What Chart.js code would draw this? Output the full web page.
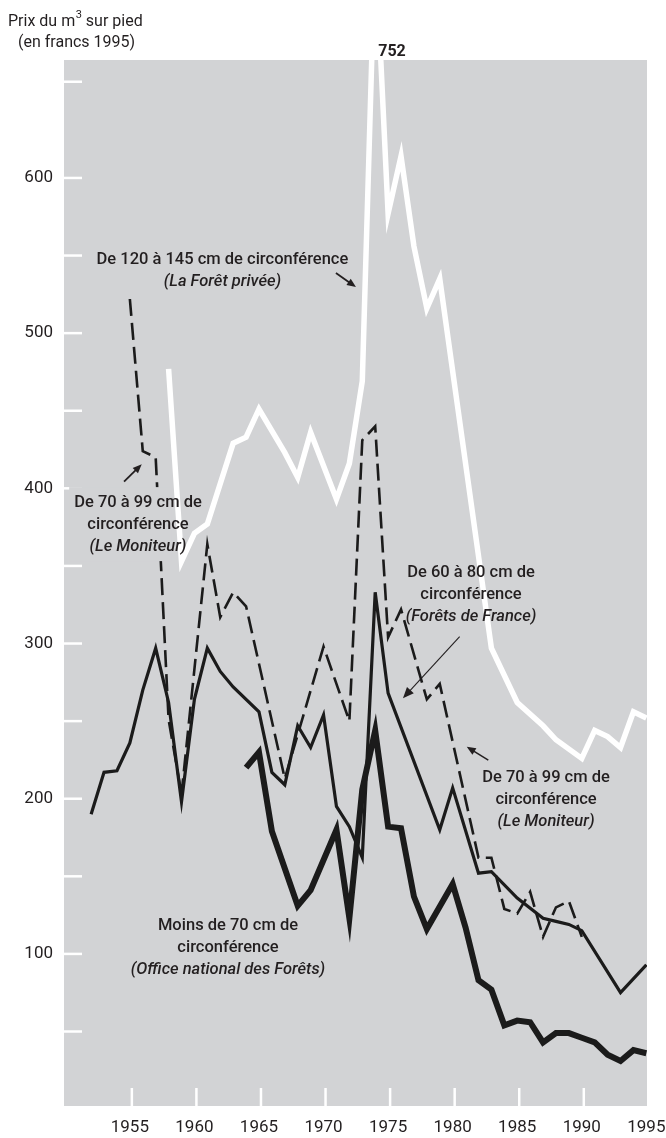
<!DOCTYPE html>
<html lang="fr">
<head>
<meta charset="utf-8">
<title>Prix du m3 sur pied</title>
<script src="https://cdn.jsdelivr.net/npm/chart.js@4.4.0/dist/chart.umd.min.js"></script>
<style>
  html,body{margin:0;padding:0;background:#fff;}
  #wrap{position:relative;width:666px;height:1138px;}
</style>
</head>
<body>
<div id="wrap"><canvas id="chart"></canvas></div>
<script>
// prices per m3 standing, in 1995 francs
const privYears = [1958,1959,1960,1961,1963,1964,1965,1967,1968,1969,1971,1972,1973,1974,1975,1976,1977,1978,1979,1983,1985,1987,1988,1990,1991,1992,1993,1994,1995];
const privValues = [477,353,371,377,429,433,451,423,407,436,393,416,469,752,577,614,556,516,535,297,262,247,238,226,244,240,233,256,252];

const monitYears = [1955,1956,1957,1958,1959,1961,1962,1963,1964,1967,1970,1972,1973,1974,1975,1976,1978,1979,1982,1983,1984,1985,1986,1987,1988,1989,1990];
const monitValues = [522,424,420,251,203,364,317,333,324,213,298,250,431,440,304,322,264,274,162,162,129,126,140,111,130,134,111];

const ffYears = [1952,1953,1954,1955,1956,1957,1958,1959,1960,1961,1962,1963,1965,1966,1967,1968,1969,1970,1971,1972,1973,1974,1975,1979,1980,1982,1983,1985,1987,1988,1989,1990,1993,1995];
const ffValues = [190,217,218,236,270,297,262,198,264,297,282,272,256,217,209,247,233,254,195,182,162,333,268,180,207,152,153,136,123,121,119,115,75,93];

const onfYears = [1964,1965,1966,1968,1969,1971,1972,1973,1974,1975,1976,1977,1978,1980,1981,1982,1983,1984,1985,1986,1987,1988,1989,1990,1991,1992,1993,1994,1995];
const onfValues = [220,230,179,131,141,180,123,206,244,182,181,137,116,145,117,83,77,54,57,56,43,49,49,46,43,35,31,38,36];

const xTickYears = [1955,1960,1965,1970,1975,1980,1985,1990,1995];
const xMarkYears = [1955,1960,1965,1970,1975,1980,1985,1990];
const yTickValues = [100,200,300,400,500,600];
const yTickLabels = ['100','200','300','400','500','600'];
const yMarkValues = [50,100,150,200,250,300,350,400,450,500,550,600,662];

const FONT = 'Roboto, "Liberation Sans", Arial, sans-serif';
const INK = '#231f20';
const PANEL = '#d2d3d5';

// annotations, anchored in data units (year, price)
const notes = [
  {at:[1962.17,544.5], lines:['De 120 à 145 cm de circonférence','(La Forêt privée)']},
  {at:[1955.63,387.9], lines:['De 70 à 99 cm de','circonférence','(Le Moniteur)'], mask:[1950.3,1958.2]},
  {at:[1981.42,342.9], lines:['De 60 à 80 cm de','circonférence','(Forêts de France)']},
  {at:[1987.23,210.8], lines:['De 70 à 99 cm de','circonférence','(Le Moniteur)']},
  {at:[1962.6,115.4], lines:['Moins de 70 cm de','circonférence','(Office national des Forêts)']}
];
const arrows = [
  {from:[1970.96,538.7], to:[1972.51,529.7], w:1.8, head:9},
  {from:[1954.55,404.3], to:[1955.92,415.5], w:1.8, head:9},
  {from:[1980.54,304.4], to:[1976.15,264.7], w:1.1, head:11},
  {from:[1982.76,224.9], to:[1981.09,233.5], w:1.5, head:9}
];

function pts(xs, vs){ return xs.map((x,i)=>({x:x, y:vs[i]})); }

function drawArrow(ctx, x1,y1,x2,y2, w, head){
  const a = Math.atan2(y2-y1, x2-x1), c = Math.cos(a), s = Math.sin(a);
  ctx.lineWidth = w;
  ctx.beginPath(); ctx.moveTo(x1,y1); ctx.lineTo(x2-c*head*0.7, y2-s*head*0.7); ctx.stroke();
  ctx.beginPath(); ctx.moveTo(x2,y2);
  ctx.lineTo(x2-c*head+s*head*0.42, y2-s*head-c*head*0.42);
  ctx.lineTo(x2-c*head-s*head*0.42, y2-s*head+c*head*0.42);
  ctx.closePath(); ctx.fill();
}

const decor = {
  id:'decor',
  beforeDraw(chart){
    const {ctx, chartArea:a} = chart;
    const xs = chart.scales.x, ys = chart.scales.y;
    ctx.save();
    ctx.fillStyle = PANEL;
    ctx.fillRect(a.left, a.top, a.right-a.left, a.bottom-a.top);
    // short white tick marks inside the panel
    ctx.strokeStyle = '#fff'; ctx.lineWidth = 2.5;
    yMarkValues.forEach(v=>{
      const p = ys.getPixelForValue(v);
      ctx.beginPath(); ctx.moveTo(a.left, p); ctx.lineTo(a.left+18, p); ctx.stroke();
    });
    xMarkYears.forEach(v=>{
      const p = xs.getPixelForValue(v) + 2;
      ctx.beginPath(); ctx.moveTo(p, a.bottom); ctx.lineTo(p, a.bottom-18); ctx.stroke();
    });
    ctx.restore();
  },
  afterDatasetsDraw(chart){
    const {ctx, chartArea:a} = chart;
    const xs = chart.scales.x, ys = chart.scales.y;
    const P = (d)=>[xs.getPixelForValue(d[0]), ys.getPixelForValue(d[1])];
    ctx.save();
    ctx.fillStyle = INK; ctx.strokeStyle = INK;
    arrows.forEach(r=>{
      const f = P(r.from), t = P(r.to);
      drawArrow(ctx, f[0],f[1],t[0],t[1], r.w, r.head);
    });
    ctx.textAlign = 'center'; ctx.textBaseline = 'alphabetic';
    notes.forEach(n=>{
      const [cx, cy] = P(n.at);
      if(n.mask){
        const l = xs.getPixelForValue(n.mask[0]), r = xs.getPixelForValue(n.mask[1]);
        ctx.fillStyle = PANEL;
        ctx.fillRect(l, cy-20, r-l, 22*n.lines.length+8);
      }
      ctx.fillStyle = INK;
      n.lines.forEach((s,i)=>{
        const last = i===n.lines.length-1 && s.startsWith('(');
        ctx.font = (last ? 'italic ' : '') + '500 16.5px ' + FONT;
        ctx.fillText(s, cx, cy + i*22);
      });
    });
    // peak value that leaves the panel
    ctx.font = 'bold 16px ' + FONT;
    ctx.fillText('752', xs.getPixelForValue(1975.3), a.top-4);
    ctx.restore();
  },
  afterDraw(chart){
    const ctx = chart.ctx;
    ctx.save();
    ctx.fillStyle = INK; ctx.textAlign = 'left'; ctx.textBaseline = 'alphabetic';
    ctx.font = '16px ' + FONT;
    let x = 8;
    ctx.fillText('Prix du m', x, 26); x += ctx.measureText('Prix du m').width + 0.5;
    ctx.font = '11px ' + FONT;
    ctx.fillText('3', x, 18); x += ctx.measureText('3').width;
    ctx.font = '16px ' + FONT;
    ctx.fillText(' sur pied', x, 26);
    ctx.fillText('(en francs 1995)', 18, 47);
    ctx.restore();
  }
};

new Chart(document.getElementById('chart'), {
  type:'line',
  data:{datasets:[
    {label:'Moins de 70 cm (Office national des Forêts)', data:pts(onfYears,onfValues), borderColor:'#1b1b1b', borderWidth:6},
    {label:'De 60 à 80 cm (Forêts de France)', data:pts(ffYears,ffValues), borderColor:'#1b1b1b', borderWidth:3.2},
    {label:'De 70 à 99 cm (Le Moniteur)', data:pts(monitYears,monitValues), borderColor:'#1b1b1b', borderWidth:2.6, borderDash:[17,7]},
    {label:'De 120 à 145 cm (La Forêt privée)', data:pts(privYears,privValues), borderColor:'#ffffff', borderWidth:5.5}
  ]},
  options:{
    responsive:true, maintainAspectRatio:false, animation:false,
    layout:{padding:{top:60, right:19, left:0, bottom:0}},
    elements:{point:{radius:0, hoverRadius:0}, line:{tension:0, borderJoinStyle:'miter', borderCapStyle:'butt', fill:false}},
    plugins:{legend:{display:false}, tooltip:{enabled:false}},
    events:[],
    scales:{
      x:{type:'linear', min:1949.9, max:1995.05,
         grid:{display:false, drawTicks:false}, border:{display:false},
         afterBuildTicks:s=>{ s.ticks = xTickYears.map(v=>({value:v})); },
         afterFit:s=>{ s.height = 32; s.paddingLeft = 0; s.paddingRight = 0; },
         ticks:{padding:12, color:INK, font:{family:FONT, size:17}, maxRotation:0, autoSkip:false, callback:v=>String(v)}},
      y:{type:'linear', min:2, max:676,
         grid:{display:false, drawTicks:false}, border:{display:false},
         afterBuildTicks:s=>{ s.ticks = yTickValues.map(v=>({value:v})); },
         afterFit:s=>{ s.width = 64; s.paddingTop = 0; s.paddingBottom = 0; },
         ticks:{padding:11, color:INK, font:{family:FONT, size:17}, autoSkip:false, callback:v=>yTickLabels[yTickValues.indexOf(v)]}}
    }
  },
  plugins:[decor]
});
</script>
</body>
</html>
